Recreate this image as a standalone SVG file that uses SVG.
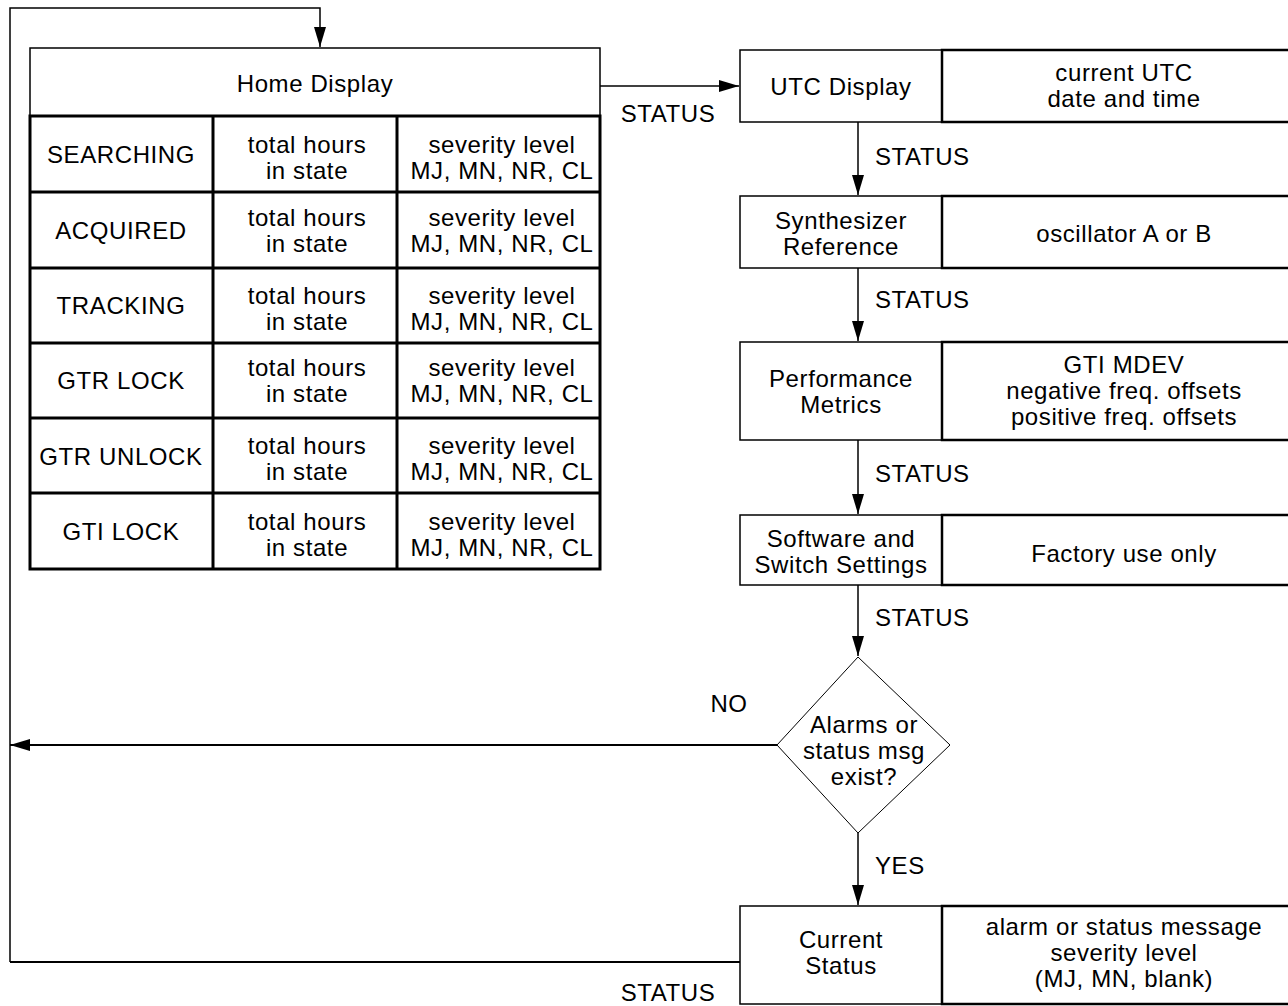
<svg xmlns="http://www.w3.org/2000/svg" width="1288" height="1006" viewBox="0 0 1288 1006">
<style>
text{font-family:"Liberation Sans",Arial,sans-serif;font-size:24px;letter-spacing:0.6px;fill:#000;text-anchor:middle}
.thin{fill:#fff;stroke:#000;stroke-width:1.5}
.thick{fill:#fff;stroke:#000;stroke-width:2.5}
.grid{fill:none;stroke:#000;stroke-width:3}
.con{fill:none;stroke:#000;stroke-width:1.5}
.lbl{text-anchor:start}
</style>
<defs>
<marker id="ah" viewBox="0 0 20 12" refX="20" refY="6" markerWidth="20" markerHeight="12" markerUnits="userSpaceOnUse" orient="auto">
<path d="M0,0 L20,6 L0,12 z" fill="#000"/>
</marker>
</defs>
<g id="connectors">
<path class="con" d="M10,962 L10,8 L320,8 L320,47" marker-end="url(#ah)"/>
<path class="con" d="M600,86 L739,86" marker-end="url(#ah)"/>
<path class="con" d="M858,122 L858,195" marker-end="url(#ah)"/>
<path class="con" d="M858,268 L858,341" marker-end="url(#ah)"/>
<path class="con" d="M858,440 L858,514" marker-end="url(#ah)"/>
<path class="con" d="M858,585 L858,656" marker-end="url(#ah)"/>
<path class="con" d="M858,833 L858,905" marker-end="url(#ah)"/>
<path class="con" style="stroke-width:2" d="M777,745 L10,745" marker-end="url(#ah)"/>
<path class="con" style="stroke-width:2" d="M740,962 L10,962"/>
<text x="668" y="122">STATUS</text>
<text class="lbl" x="875" y="165">STATUS</text>
<text class="lbl" x="875" y="308">STATUS</text>
<text class="lbl" x="875" y="482">STATUS</text>
<text class="lbl" x="875" y="626">STATUS</text>
<text x="729" y="712">NO</text>
<text class="lbl" x="875" y="874">YES</text>
<text x="668" y="1001">STATUS</text>
</g>
<g id="home-display">
<rect class="thin" x="30" y="48" width="570" height="68"/>
<text x="315" y="92">Home Display</text>
<rect class="grid" x="30" y="116" width="570" height="453"/>
<path class="grid" d="M213,116 V569 M397,116 V569 M30,192 H600 M30,268 H600 M30,343 H600 M30,418 H600 M30,493 H600"/>
</g>
<g id="row-searching">
<text x="121" y="163">SEARCHING</text>
<text x="307" y="153">total hours</text><text x="307" y="179">in state</text>
<text x="502" y="153">severity level</text><text x="502" y="179">MJ, MN, NR, CL</text>
</g>
<g id="row-acquired">
<text x="121" y="239">ACQUIRED</text>
<text x="307" y="226">total hours</text><text x="307" y="252">in state</text>
<text x="502" y="226">severity level</text><text x="502" y="252">MJ, MN, NR, CL</text>
</g>
<g id="row-tracking">
<text x="121" y="314">TRACKING</text>
<text x="307" y="304">total hours</text><text x="307" y="330">in state</text>
<text x="502" y="304">severity level</text><text x="502" y="330">MJ, MN, NR, CL</text>
</g>
<g id="row-gtr-lock">
<text x="121" y="389">GTR LOCK</text>
<text x="307" y="376">total hours</text><text x="307" y="402">in state</text>
<text x="502" y="376">severity level</text><text x="502" y="402">MJ, MN, NR, CL</text>
</g>
<g id="row-gtr-unlock">
<text x="121" y="465">GTR UNLOCK</text>
<text x="307" y="454">total hours</text><text x="307" y="480">in state</text>
<text x="502" y="454">severity level</text><text x="502" y="480">MJ, MN, NR, CL</text>
</g>
<g id="row-gti-lock">
<text x="121" y="540">GTI LOCK</text>
<text x="307" y="530">total hours</text><text x="307" y="556">in state</text>
<text x="502" y="530">severity level</text><text x="502" y="556">MJ, MN, NR, CL</text>
</g>
<g id="utc-display">
<rect class="thin" x="740" y="50" width="202" height="72"/>
<rect class="thick" x="942" y="50" width="360" height="72"/>
<text x="841" y="95">UTC Display</text>
<text x="1124" y="81">current UTC</text><text x="1124" y="107">date and time</text>
</g>
<g id="synth-ref">
<rect class="thin" x="740" y="196" width="202" height="72"/>
<rect class="thick" x="942" y="196" width="360" height="72"/>
<text x="841" y="229">Synthesizer</text><text x="841" y="255">Reference</text>
<text x="1124" y="242">oscillator A or B</text>
</g>
<g id="perf-metrics">
<rect class="thin" x="740" y="342" width="202" height="98"/>
<rect class="thick" x="942" y="342" width="360" height="98"/>
<text x="841" y="387">Performance</text><text x="841" y="413">Metrics</text>
<text x="1124" y="373">GTI MDEV</text><text x="1124" y="399">negative freq. offsets</text><text x="1124" y="425">positive freq. offsets</text>
</g>
<g id="software-switch">
<rect class="thin" x="740" y="515" width="202" height="70"/>
<rect class="thick" x="942" y="515" width="360" height="70"/>
<text x="841" y="547">Software and</text><text x="841" y="573">Switch Settings</text>
<text x="1124" y="562">Factory use only</text>
</g>
<g id="decision">
<polygon fill="#fff" stroke="#000" stroke-width="1" points="858,657 950,745 858,833 777,745"/>
<text x="864" y="733">Alarms or</text><text x="864" y="759">status msg</text><text x="864" y="785">exist?</text>
</g>
<g id="current-status">
<rect class="thin" x="740" y="906" width="202" height="98"/>
<rect class="thick" x="942" y="906" width="360" height="98"/>
<text x="841" y="948">Current</text><text x="841" y="974">Status</text>
<text x="1124" y="935">alarm or status message</text><text x="1124" y="961">severity level</text><text x="1124" y="987">(MJ, MN, blank)</text>
</g>
</svg>
